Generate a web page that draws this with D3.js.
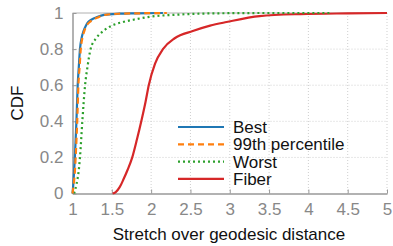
<!DOCTYPE html>
<html><head><meta charset="utf-8">
<script src="https://cdn.jsdelivr.net/npm/d3@7"></script>
<style>body{margin:0;background:#fff}svg{display:block}text{font-family:"Liberation Sans",Arial,sans-serif}</style>
</head><body><svg id="c" width="393" height="246"></svg>
<script>
const xTicks = [1,1.5,2,2.5,3,3.5,4,4.5,5];
const yTicks = [0,0.2,0.4,0.6,0.8,1];
const seriesNames = ["Best","99th percentile","Worst","Fiber"];
const seriesColors = ["#1f77b4","#ff7f0e","#2ca02c","#d62728"];
const bestX = [1.0,1.01,1.02,1.03,1.05,1.066,1.08,1.095,1.12,1.14,1.17,1.2,1.25,1.3,1.4,1.6,1.8,2.15];
const bestY = [0.0,0.05,0.12,0.2,0.4,0.6,0.7,0.8,0.87,0.9,0.93,0.95,0.965,0.975,0.99,0.996,0.998,1.0];
const p99X = [1.0,1.015,1.03,1.04,1.06,1.075,1.09,1.105,1.13,1.15,1.18,1.22,1.27,1.32,1.42,1.6,1.8,2.2];
const p99Y = [0.0,0.05,0.12,0.2,0.4,0.6,0.7,0.8,0.87,0.9,0.93,0.95,0.965,0.975,0.99,0.996,0.998,1.0];
const worstX = [1.02,1.05,1.08,1.095,1.125,1.16,1.19,1.23,1.3,1.39,1.5,1.64,1.8,2.0,2.3,2.8,3.5,4.3];
const worstY = [0.0,0.05,0.13,0.2,0.4,0.6,0.7,0.8,0.86,0.9,0.93,0.95,0.965,0.98,0.99,0.998,1.0,1.0];
const fiberX = [1.51,1.55,1.6,1.65,1.7,1.76,1.82,1.88,1.93,1.97,2.05,2.15,2.3,2.53,2.75,2.96,3.38,3.9,4.5,5.0];
const fiberY = [0.0,0.008,0.035,0.08,0.13,0.2,0.3,0.41,0.51,0.6,0.72,0.8,0.86,0.9,0.93,0.95,0.983,0.994,0.998,1.0];

const svg = d3.select("#c");
const L=72.5, R=387, T=13, B=193.5;
const x = d3.scaleLinear().domain([1,5]).range([L,R]);
const y = d3.scaleLinear().domain([0,1]).range([B,T]);
const grid = svg.append("g");
xTicks.slice(1).forEach(t=>grid.append("line").attr("x1",x(t)).attr("x2",x(t)).attr("y1",T).attr("y2",B)
  .attr("stroke","#cfcfcf").attr("stroke-width",1).attr("stroke-dasharray","1,2"));
yTicks.slice(1,-1).forEach(t=>grid.append("line").attr("x1",L).attr("x2",R).attr("y1",y(t)).attr("y2",y(t))
  .attr("stroke","#cfcfcf").attr("stroke-width",1).attr("stroke-dasharray","1,2"));
svg.append("line").attr("x1",L).attr("x2",R).attr("y1",T).attr("y2",T).attr("stroke","#b0b0b0").attr("stroke-width",1);

const xa = svg.append("g").attr("transform",`translate(0,${B})`)
  .call(d3.axisBottom(x).tickValues(xTicks).tickFormat(d3.format("")).tickSizeInner(-4).tickSizeOuter(0).tickPadding(9));
const ya = svg.append("g").attr("transform",`translate(${L},0)`)
  .call(d3.axisLeft(y).tickValues(yTicks).tickFormat(d3.format("")).tickSizeInner(-4).tickSizeOuter(0).tickPadding(9));
[xa,ya].forEach(a=>{
  a.select(".domain").attr("stroke","#999").attr("stroke-width",1.5);
  a.selectAll(".tick line").attr("stroke","#999");
  a.selectAll(".tick text").attr("fill","#888").attr("font-size",17);
});

const data = [[bestX,bestY],[p99X,p99Y],[worstX,worstY],[fiberX,fiberY]];
const dashes = [null,"6,4","2,3",null];
const line = d3.line().x(d=>x(d[0])).y(d=>y(d[1])).curve(d3.curveMonotoneX);
const order=[3,2,0,1];
order.forEach(i=>{
  const pts = data[i][0].map((v,j)=>[v,data[i][1][j]]);
  svg.append("path").attr("d",line(pts)).attr("fill","none").attr("stroke",seriesColors[i])
    .attr("stroke-width",2.2).attr("stroke-dasharray",dashes[i]);
});

const lg = svg.append("g");
seriesNames.forEach((n,i)=>{
  const yy = 127 + i*17.3;
  lg.append("line").attr("x1",178).attr("x2",224).attr("y1",yy).attr("y2",yy)
    .attr("stroke",seriesColors[i]).attr("stroke-width",2.2).attr("stroke-dasharray",dashes[i]);
  lg.append("text").attr("x",233).attr("y",yy+6).attr("font-size",17).attr("fill","#111").text(n);
});

svg.append("text").attr("x",229).attr("y",240).attr("text-anchor","middle").attr("font-size",17).attr("fill","#111")
  .text("Stretch over geodesic distance");
svg.append("text").attr("transform","translate(23,103) rotate(-90)").attr("text-anchor","middle").attr("font-size",17).attr("fill","#111").text("CDF");
</script></body></html>
